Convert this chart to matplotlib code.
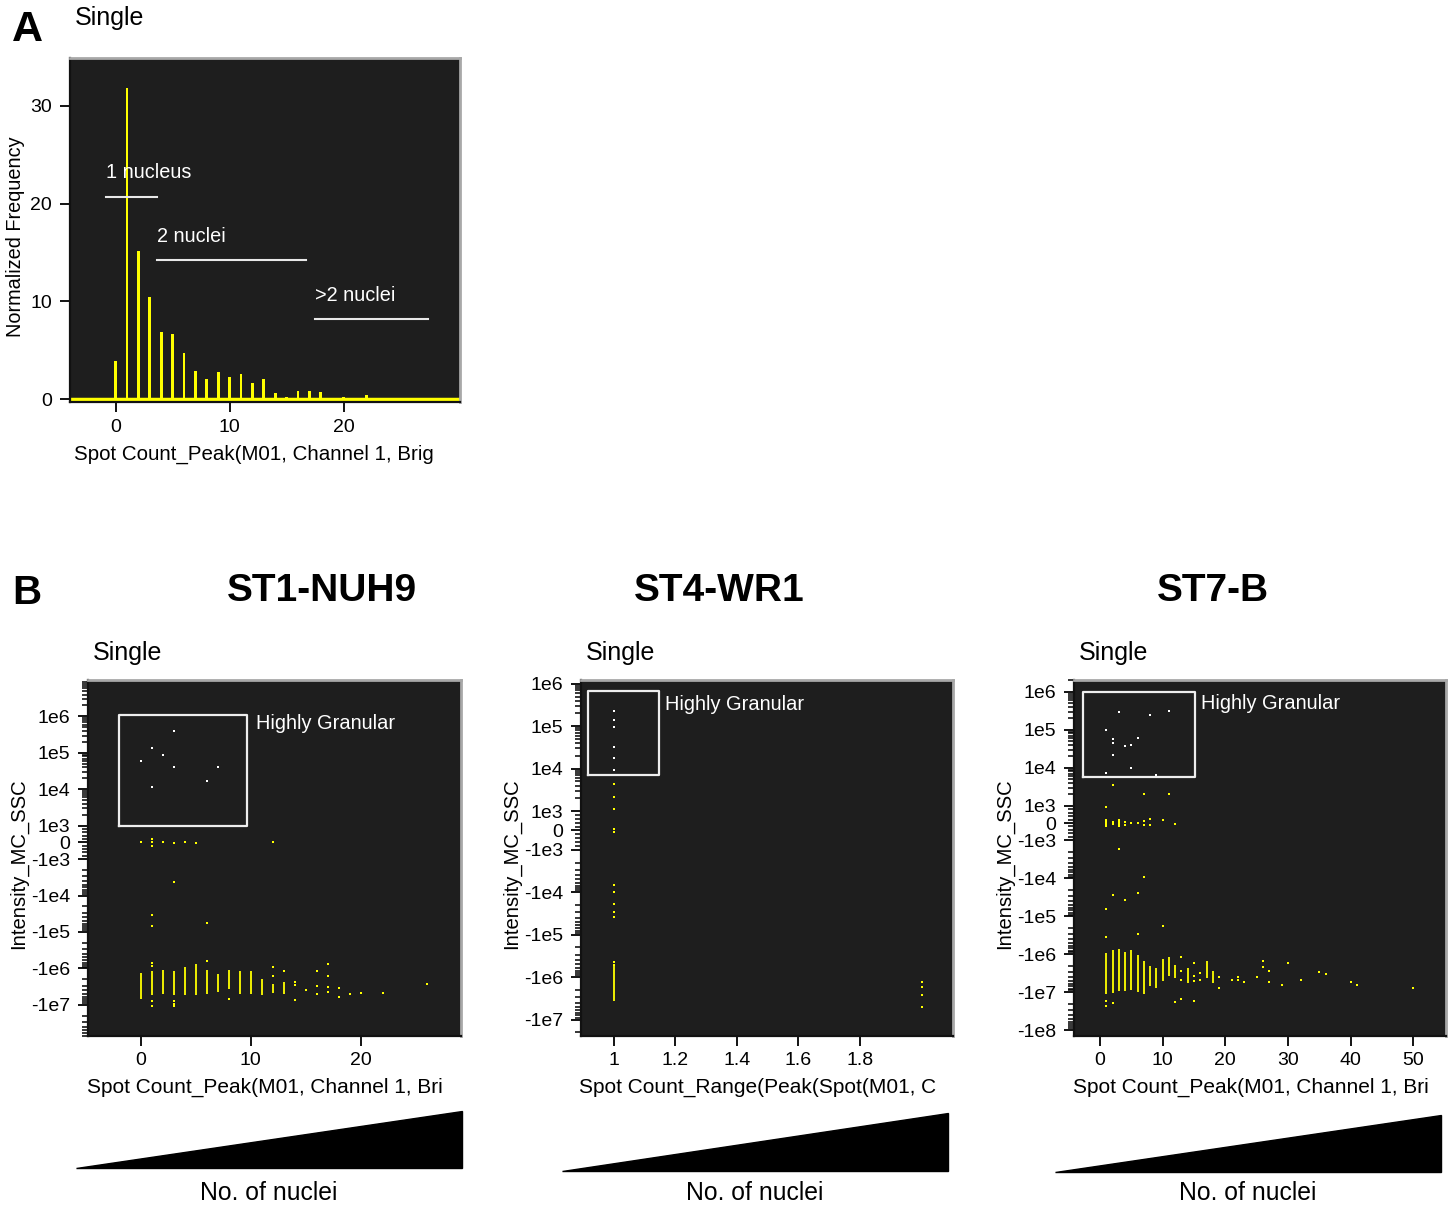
import matplotlib
matplotlib.use('Agg')
import matplotlib.pyplot as plt
from matplotlib.patches import Polygon
from matplotlib.ticker import FixedLocator

plt.rcParams['font.family'] = ['Liberation Sans', 'DejaVu Sans']

# ---- Panel A: histogram of spot counts ----
hist_x = [0, 1, 2, 3, 4, 5, 6, 7, 8, 9, 10, 11, 12, 13, 14, 15, 16, 17, 18, 19, 20, 22, 26]
hist_y = [3.9, 31.8, 15.2, 10.4, 6.9, 6.65, 4.7, 2.9, 2.1, 2.8, 2.3, 2.6, 1.6, 2.1,
          0.6, 0.25, 0.85, 0.8, 0.7, 0.1, 0.25, 0.4, 0.15]

# annotation bars: (label, x0, x1, y)
gate_names = ['1 nucleus', '2 nuclei', '>2 nuclei']
gate_x0 = [-0.8, 3.6, 17.5]
gate_x1 = [3.6, 16.7, 27.4]
gate_y = [20.7, 14.2, 8.15]

# ---- Panel B1: ST1-NUH9 ----
b1_gate_x = [3, 1, 2, 0, 3, 7, 6, 1]
b1_gate_y = [4e5, 1.4e5, 9e4, 6e4, 4e4, 4e4, 1.7e4, 1.15e4]
b1_dot_x = [0, 1, 1, 1, 2, 3, 4, 5, 12,
            3, 1, 1, 6,
            1, 1, 1, 1, 3, 3, 3, 6, 8, 12, 12, 13, 14, 14, 14, 15,
            16, 16, 16, 17, 17, 17, 17, 18, 18, 19, 20, 22, 26]
b1_dot_y = [50, 200, 0, -200, 50, -50, 50, -50, 50,
            -4.2e3, -3.4e4, -6.9e4, -5.8e4,
            -6.9e5, -8.7e5, -7.6e6, -1.1e7, -7.6e6, -9.3e6, -1.1e7, -6.3e5, -6.8e6,
            -9.3e5, -1.6e6, -1.15e6, -2.3e6, -2.9e6, -7.2e6, -4e6,
            -1.2e6, -3.1e6, -5.1e6, -7.8e5, -1.6e6, -3.2e6, -4.5e6, -3.4e6, -5.9e6,
            -5.1e6, -4.8e6, -4.8e6, -2.6e6]
b1_col_x = [0, 1, 2, 3, 4, 5, 6, 7, 8, 9, 10, 11, 12, 13]
b1_col_lo = [-6.8e6, -5.5e6, -5.1e6, -5.5e6, -5.5e6, -5.5e6, -4.9e6, -4.5e6, -3.6e6,
             -4.9e6, -4.9e6, -5.5e6, -4.8e6, -4.9e6]
b1_col_hi = [-1.3e6, -1.2e6, -1.1e6, -1.2e6, -8.9e5, -7.6e5, -1.1e6, -1.4e6, -1.1e6,
             -1.2e6, -1.15e6, -1.9e6, -2.6e6, -2.3e6]

# ---- Panel B2: ST4-WR1 ----
b2_gate_x = [1, 1, 1, 1, 1, 1]
b2_gate_y = [2.3e5, 1.4e5, 9.5e4, 3.3e4, 1.8e4, 9.1e3]
b2_dot_x = [1, 1, 1, 1, 1, 1, 1, 1, 1, 1, 1, 1, 2, 2, 2, 2]
b2_dot_y = [4.3e3, 2.2e3, 1.1e3, 60, -60, -6.9e3, -1e4, -1.9e4, -3e4, -3.8e4, -4.3e5, -5.2e5,
            -1.3e6, -1.7e6, -2.6e6, -5e6]
b2_col_x = [1]
b2_col_lo = [-3.7e6]
b2_col_hi = [-5.6e5]

# ---- Panel B3: ST7-B ----
b3_gate_x = [3, 8, 11, 1, 2, 2, 6, 5, 4, 2, 5, 1, 9]
b3_gate_y = [3e5, 2.5e5, 3.2e5, 1e5, 5.6e4, 4.6e4, 6e4, 4.1e4, 3.8e4, 2.2e4, 1e4, 7.4e3, 6.3e3]
b3_dot_x = [2, 7, 11, 1,
            1, 1, 1, 1, 1, 2, 2, 3, 3, 3, 3, 4, 4, 5, 6, 7, 7, 8, 8, 10, 12,
            3, 7, 2, 6, 4, 1, 10, 6, 1,
            1, 1, 2, 12, 13, 13, 13, 13, 15, 15, 15, 15, 16, 16, 19, 19, 21, 22, 22,
            23, 25, 26, 26, 27, 27, 29, 30, 32, 35, 36, 40, 41, 50]
b3_dot_y = [3.6e3, 2e3, 2e3, 9.5e2,
            190, 100, 0, -80, -150, 40, -50, 150, 50, -50, -190, 40, -90, -20, -20,
            100, -100, 250, -130, 150, -40,
            -1.7e3, -9.1e3, -2.7e4, -2.5e4, -3.7e4, -6.3e4, -1.8e5, -2.9e5, -3.5e5,
            -1.7e7, -2.3e7, -1.95e7, -1.8e7, -1.2e6, -2.8e6, -4.7e6, -1.5e7,
            -1.7e6, -3.8e6, -5.1e6, -1.7e7, -3.2e6, -4.7e6, -4.1e6, -7.8e6, -4.9e6,
            -4.1e6, -4.9e6, -5.4e6, -4.1e6, -1.5e6, -2.2e6, -2.8e6, -5.4e6, -6.3e6,
            -1.7e6, -4.9e6, -3e6, -3.3e6, -5.4e6, -6.3e6, -7.8e6]
b3_col_x = [1, 2, 3, 4, 5, 6, 7, 8, 9, 10, 11, 12, 14, 17, 18]
b3_col_lo = [-1.15e7, -1.05e7, -9.1e6, -9.3e6, -8.9e6, -9.8e6, -1.15e7, -6.9e6, -7.8e6,
             -5.1e6, -3.8e6, -4.3e6, -5.8e6, -4.3e6, -5.8e6]
b3_col_hi = [-9.1e5, -7.8e5, -7.2e5, -8.9e5, -7.9e5, -1.05e6, -1.5e6, -2.1e6, -2.3e6,
             -1.3e6, -1.15e6, -1.9e6, -2.3e6, -1.5e6, -2.8e6]

W, H = 1450, 1206
DARK = '#1e1e1e'
YEL = '#ffff00'

fig = plt.figure(figsize=(W / 100, H / 100), dpi=100)


def frac(x0, y0, x1, y1):
    # pixel box -> figure fraction rect
    return [x0 / W, 1 - y1 / H, (x1 - x0) / W, (y1 - y0) / H]


def style_box(ax):
    ax.set_facecolor(DARK)
    for s in ['top', 'right']:
        ax.spines[s].set_color('#a8a8a8')
        ax.spines[s].set_linewidth(2)
    for s in ['left', 'bottom']:
        ax.spines[s].set_color('#111111')
        ax.spines[s].set_linewidth(1.6)
    ax.tick_params(direction='out', length=7, width=1.3, labelsize=14)
    ax.tick_params(axis='y', pad=6)
    ax.tick_params(axis='x', pad=5)


# ---------- Panel A ----------
axA = fig.add_axes(frac(70, 58, 460, 402))
style_box(axA)
axA.bar(hist_x, hist_y, width=0.25, color=YEL)
axA.axhline(0, color=YEL, lw=2.5)
for name, x0, x1, y in zip(gate_names, gate_x0, gate_x1, gate_y):
    axA.plot([x0, x1], [y, y], color='#e8e8e8', lw=1.5)
    axA.text(x0, y + 1.5, name, color='white', fontsize=14.3, va='bottom')
axA.set_xlim(-4.0, 30.2)
axA.set_ylim(-0.3, 34.9)
axA.set_xticks([0, 10, 20])
axA.set_yticks([0, 10, 20, 30])
axA.set_xlabel('Spot Count_Peak(M01, Channel 1, Brig', fontsize=14.8, labelpad=6.5)
axA.set_ylabel('Normalized Frequency', fontsize=14.3, labelpad=4)
axA.xaxis.label.set_x(0.472)
axA.yaxis.label.set_y(0.48)
fig.text(12 / W, 1 - 30 / H, 'A', fontsize=31, fontweight='bold', va='center')
fig.text(75 / W, 1 - 18 / H, 'Single', fontsize=18, va='center')

# ---------- Panel B ----------
ytick_vals = [1e6, 1e5, 1e4, 1e3, 0, -1e3, -1e4, -1e5, -1e6, -1e7, -1e8]
ytick_labs = ['1e6', '1e5', '1e4', '1e3', '0', '-1e3', '-1e4', '-1e5', '-1e6', '-1e7', '-1e8']
minor = []
for d in range(3, 8):
    for k in range(2, 10):
        minor += [k * 10 ** d, -k * 10 ** d]
minor += [k * 100 for k in range(-8, 9, 2) if k != 0]

panels = [
    dict(box=(88.3, 680, 461, 1035.7), xlim=(-4.76, 29.1), ylim=(-7e7, 1e7),
         xt=[0, 10, 20], xtl=['0', '10', '20'], gate=(-1.97, 9.66, 1e3, 1.1e6),
         gtxt=(10.5, 6.3e5), title='ST1-NUH9', tx=322,
         xlab='Spot Count_Peak(M01, Channel 1, Bri',
         gx=b1_gate_x, gy=b1_gate_y, dx=b1_dot_x, dy=b1_dot_y,
         cx=b1_col_x, clo=b1_col_lo, chi=b1_col_hi, ntk=10,
         tri=(75.7, 1168, 461.7, 1111)),
    dict(box=(581, 680, 953.3, 1035.7), xlim=(0.894, 2.103), ylim=(-2.4e7, 1.23e6),
         xt=[1, 1.2, 1.4, 1.6, 1.8], xtl=['1', '1.2', '1.4', '1.6', '1.8'],
         gate=(0.918, 1.147, 7e3, 6.6e5), gtxt=(1.167, 3.2e5), title='ST4-WR1', tx=719,
         xlab='Spot Count_Range(Peak(Spot(M01, C',
         gx=b2_gate_x, gy=b2_gate_y, dx=b2_dot_x, dy=b2_dot_y,
         cx=b2_col_x, clo=b2_col_lo, chi=b2_col_hi, ntk=10,
         tri=(562, 1171, 948, 1113)),
    dict(box=(1074.3, 680, 1446, 1035.7), xlim=(-4.1, 55.2), ylim=(-1.4e8, 2.05e6),
         xt=[0, 10, 20, 30, 40, 50], xtl=['0', '10', '20', '30', '40', '50'],
         gate=(-2.7, 15.15, 5.8e3, 1e6), gtxt=(16.1, 5e5), title='ST7-B', tx=1213,
         xlab='Spot Count_Peak(M01, Channel 1, Bri',
         gx=b3_gate_x, gy=b3_gate_y, dx=b3_dot_x, dy=b3_dot_y,
         cx=b3_col_x, clo=b3_col_lo, chi=b3_col_hi, ntk=11,
         tri=(1055, 1172, 1441, 1115)),
]

for p in panels:
    ax = fig.add_axes(frac(*p['box']))
    style_box(ax)
    ax.set_yscale('symlog', linthresh=1e3, linscale=0.41)
    ax.set_xlim(*p['xlim'])
    ax.set_ylim(*p['ylim'])
    ax.vlines(p['cx'], p['clo'], p['chi'], color=YEL, lw=1.3)
    ax.scatter(p['dx'], p['dy'], s=3, marker='s', color=YEL, linewidths=0)
    ax.scatter(p['gx'], p['gy'], s=3, marker='s', color='white', linewidths=0)
    x0, x1, y0, y1 = p['gate']
    ax.plot([x0, x1, x1, x0, x0], [y0, y0, y1, y1, y0], color='#eeeeee', lw=1.6)
    ax.text(p['gtxt'][0], p['gtxt'][1], 'Highly Granular', color='white',
            fontsize=14.4, va='center')
    ax.set_xticks(p['xt'])
    ax.set_xticklabels(p['xtl'])
    ax.set_yticks(ytick_vals[:p['ntk']])
    ax.set_yticklabels(ytick_labs[:p['ntk']])
    ax.yaxis.set_minor_locator(FixedLocator(minor))
    ax.tick_params(axis='y', which='minor', length=4, width=1.1)
    ax.set_xlabel(p['xlab'], fontsize=15, labelpad=6)
    ax.set_ylabel('Intensity_MC_SSC', fontsize=14.6, labelpad=2)
    ax.xaxis.label.set_x(0.475)
    ax.yaxis.label.set_y(0.483)

    bx = p['box'][0]
    fig.text(p['tx'] / W, 1 - 591 / H, p['title'], fontsize=28, fontweight='bold',
             ha='center', va='center')
    fig.text((bx + 5) / W, 1 - 653 / H, 'Single', fontsize=18, va='center')

    # wedge showing nuclei count
    tl, tb, tr, tt = p['tri']
    wedge = Polygon([[tl / W, 1 - tb / H], [tr / W, 1 - tb / H], [tr / W, 1 - tt / H]],
                    closed=True, transform=fig.transFigure, color='black')
    fig.add_artist(wedge)
    fig.text((tl + tr) / 2 / W, 1 - 1193 / H, 'No. of nuclei', fontsize=17.8,
             ha='center', va='center')

fig.text(12 / W, 1 - 593 / H, 'B', fontsize=29, fontweight='bold', va='center')

fig.savefig('out.png', dpi=100)
